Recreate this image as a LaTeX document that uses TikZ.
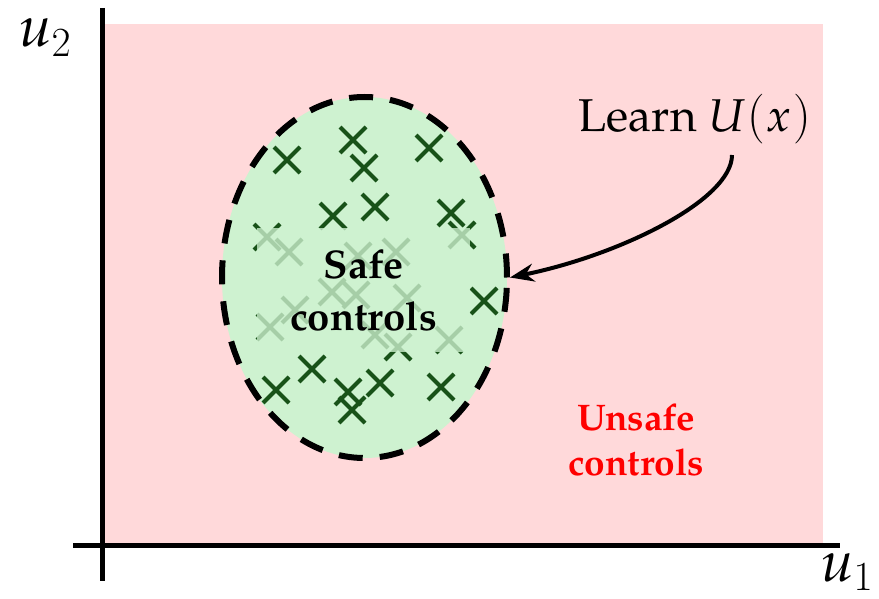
\documentclass[tikz,border=0pt]{standalone}
\usepackage{fontspec}
\setmainfont{TeX Gyre Pagella}
\usetikzlibrary{shapes.geometric,arrows.meta}
\definecolor{bgpink}{RGB}{255,217,218}
\definecolor{safegreen}{RGB}{206,242,208}
\definecolor{crossgreen}{RGB}{24,82,24}
\begin{document}
\begin{tikzpicture}[x=0.5pt,y=-0.5pt,
  axisline/.style={line width=2.5pt},
  crossline/.style={draw=crossgreen,line width=2pt},
  safeset/.style={ellipse,fill=safegreen,draw=black,line width=3pt,dash pattern=on 12pt off 8.5pt,minimum width=142.5pt,minimum height=180.5pt,inner sep=0pt},
  labelbox/.style={fill=safegreen,fill opacity=0.78,text opacity=1,minimum width=106.5pt,minimum height=62pt,inner sep=0pt,align=center,font=\bfseries\fontsize{20}{26}\selectfont},
  unsafelabel/.style={align=center,text=red,font=\bfseries\fontsize{18.5}{22.5}\selectfont},
  axislabel/.style={anchor=base west,inner sep=0pt,font=\fontsize{29}{34}\selectfont}]
\useasboundingbox (0,0) rectangle (879,599);
\fill[bgpink] (104,24) rectangle (823,543);
\coordinate (ytop) at (102,8);
\coordinate (ybot) at (102,581);
\coordinate (xleft) at (73,545);
\coordinate (xright) at (840,545);
\draw[axisline] (ytop) -- (ybot);
\draw[axisline] (xleft) -- (xright);
\node[axislabel] (u2) at (19,47) {$\textit{u}_2$};
\node[axislabel] (u1) at (821,581) {$\textit{u}_1$};
\node[safeset] (safe) at (364.5,277.5) {};
\foreach \p in {(353,140),(287,160),(364,168),(429,148),(333,216),(375,207),(451,213),(267,237),(289,252),(462,235),(484,301),(312,369),(276,390),(348,392),(380,383),(352,410),(441,387),(358,256),(396,252),(332,292),(356,295),(295,310),(407,298),(270,327),(375,335),(398,347),(449,340)}
  \draw[crossline] \p +(-6.5pt,-6.5pt) -- +(6.5pt,6.5pt) \p +(-6.5pt,6.5pt) -- +(6.5pt,-6.5pt);
\node[labelbox] (safetext) at (363.5,290) {Safe\\controls};
\node[unsafelabel] (unsafe) at (636,440) {Unsafe\\controls};
\node[anchor=base west,inner sep=0pt,font=\fontsize{23}{27}\selectfont] (learn) at (578,132) {Learn $\textit{U}\mkern1mu(\mkern1mu\textit{x}\mkern1mu)$};
\coordinate (ls) at (732,155);
\draw[line width=2pt,-{Stealth[length=12pt,width=9pt]}] (ls) .. controls (732,200) and (620,255) .. (safe.east);
\end{tikzpicture}
\end{document}
